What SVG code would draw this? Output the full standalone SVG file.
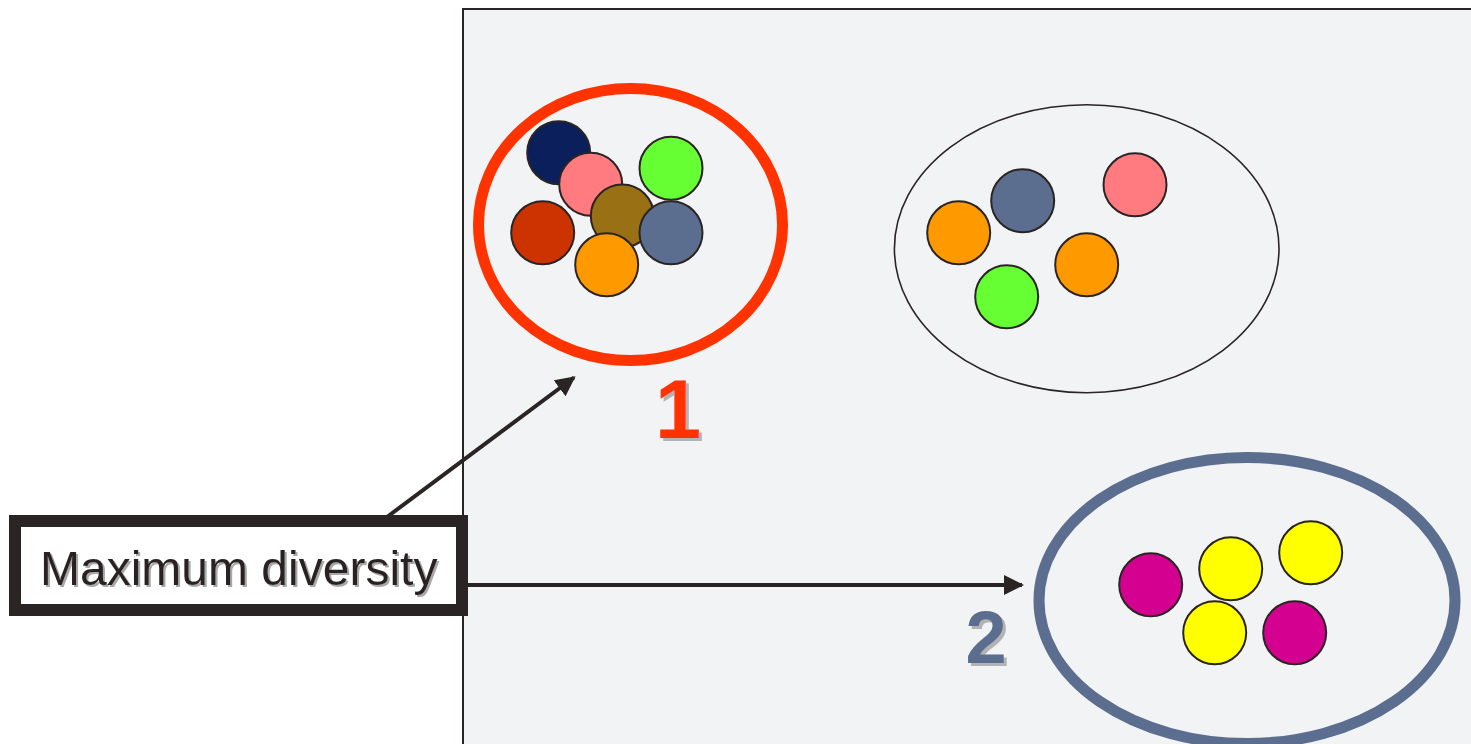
<svg xmlns="http://www.w3.org/2000/svg" width="1471" height="744" viewBox="0 0 1471 744">
  <style>
    .ball { stroke: #2b2424; stroke-width: 2; }
    .conn { stroke: #2b2424; stroke-width: 4; fill: none; marker-end: url(#head); }
    .lbl { font-family: "Liberation Sans", Arial, sans-serif; filter: url(#shadowSmall); }
    .num { font-family: "Liberation Sans", Arial, sans-serif; font-weight: bold; text-anchor: middle; filter: url(#shadowBig); }
  </style>
  <defs>
    <marker id="head" viewBox="0 0 10 10" refX="9" refY="5" markerWidth="5" markerHeight="5" orient="auto" markerUnits="strokeWidth">
      <path d="M0,0 L10,5 L0,10 Z" fill="#2b2424"/>
    </marker>
    <!-- soft grey drop shadows behind the texts -->
    <filter id="shadowSmall" x="-10%" y="-20%" width="120%" height="150%">
      <feDropShadow dx="2" dy="2" stdDeviation="0.4" flood-color="#a8a8a8" flood-opacity="1"/>
    </filter>
    <filter id="shadowBig" x="-20%" y="-20%" width="150%" height="150%">
      <feDropShadow dx="3" dy="3" stdDeviation="0.5" flood-color="#b3b3b3" flood-opacity="1"/>
    </filter>
  </defs>

  <rect width="1471" height="744" fill="#ffffff"/>

  <!-- search space panel -->
  <rect id="space" x="463" y="9" width="1020" height="760" fill="#f2f3f5" stroke="#2b2424" stroke-width="2"/>

  <!-- cluster 1: the diverse cluster -->
  <g id="cluster1">
    <ellipse cx="630.5" cy="224.5" rx="152" ry="136" fill="none" stroke="#ff3300" stroke-width="11"/>
    <circle class="ball" cx="558.7" cy="152.7" r="31.5" fill="#0a1f5c"/>
    <circle class="ball" cx="590.7" cy="184.3" r="31.5" fill="#ff7b80"/>
    <circle class="ball" cx="671" cy="168.3" r="31.5" fill="#66ff33"/>
    <circle class="ball" cx="542.7" cy="232.7" r="31.5" fill="#cc3300"/>
    <circle class="ball" cx="622.3" cy="216" r="31.5" fill="#997014"/>
    <circle class="ball" cx="671" cy="232.7" r="31.5" fill="#5c6e8f"/>
    <circle class="ball" cx="606.7" cy="264.7" r="31.5" fill="#ff9900"/>
    <text class="num" x="678" y="438" font-size="83" fill="#ff3300">1</text>
  </g>

  <!-- cluster without a label -->
  <g id="cluster3">
    <ellipse cx="1086.7" cy="248.7" rx="192.3" ry="144" fill="none" stroke="#2b2424" stroke-width="1.6"/>
    <circle class="ball" cx="958.7" cy="232.7" r="31.5" fill="#ff9900"/>
    <circle class="ball" cx="1022.7" cy="200.7" r="31.5" fill="#5c6e8f"/>
    <circle class="ball" cx="1135" cy="184.7" r="31.5" fill="#ff7b80"/>
    <circle class="ball" cx="1086.7" cy="264.7" r="31.5" fill="#ff9900"/>
    <circle class="ball" cx="1006.7" cy="296.7" r="31.5" fill="#66ff33"/>
  </g>

  <!-- cluster 2 -->
  <g id="cluster2">
    <ellipse cx="1247" cy="600.5" rx="208" ry="143" fill="none" stroke="#5c6e8f" stroke-width="11"/>
    <circle class="ball" cx="1150.7" cy="584.7" r="31.5" fill="#d4008f"/>
    <circle class="ball" cx="1230.7" cy="568.7" r="31.5" fill="#ffff00"/>
    <circle class="ball" cx="1310.7" cy="552.7" r="31.5" fill="#ffff00"/>
    <circle class="ball" cx="1214.7" cy="632.7" r="31.5" fill="#ffff00"/>
    <circle class="ball" cx="1294.7" cy="632.7" r="31.5" fill="#d4008f"/>
    <text class="num" x="986" y="663" font-size="74" fill="#5c6e8f">2</text>
  </g>

  <!-- connectors -->
  <g id="connectors">
    <line class="conn" x1="387" y1="517" x2="574" y2="377.5"/>
    <line class="conn" x1="468" y1="585" x2="1022" y2="585"/>
  </g>

  <!-- label box -->
  <g id="maxdiv">
    <rect x="15" y="521" width="447" height="89" fill="#ffffff" stroke="#2b2424" stroke-width="12"/>
    <text class="lbl" x="40" y="585" font-size="48" fill="#2b2424">Maximum diversity</text>
  </g>
</svg>
